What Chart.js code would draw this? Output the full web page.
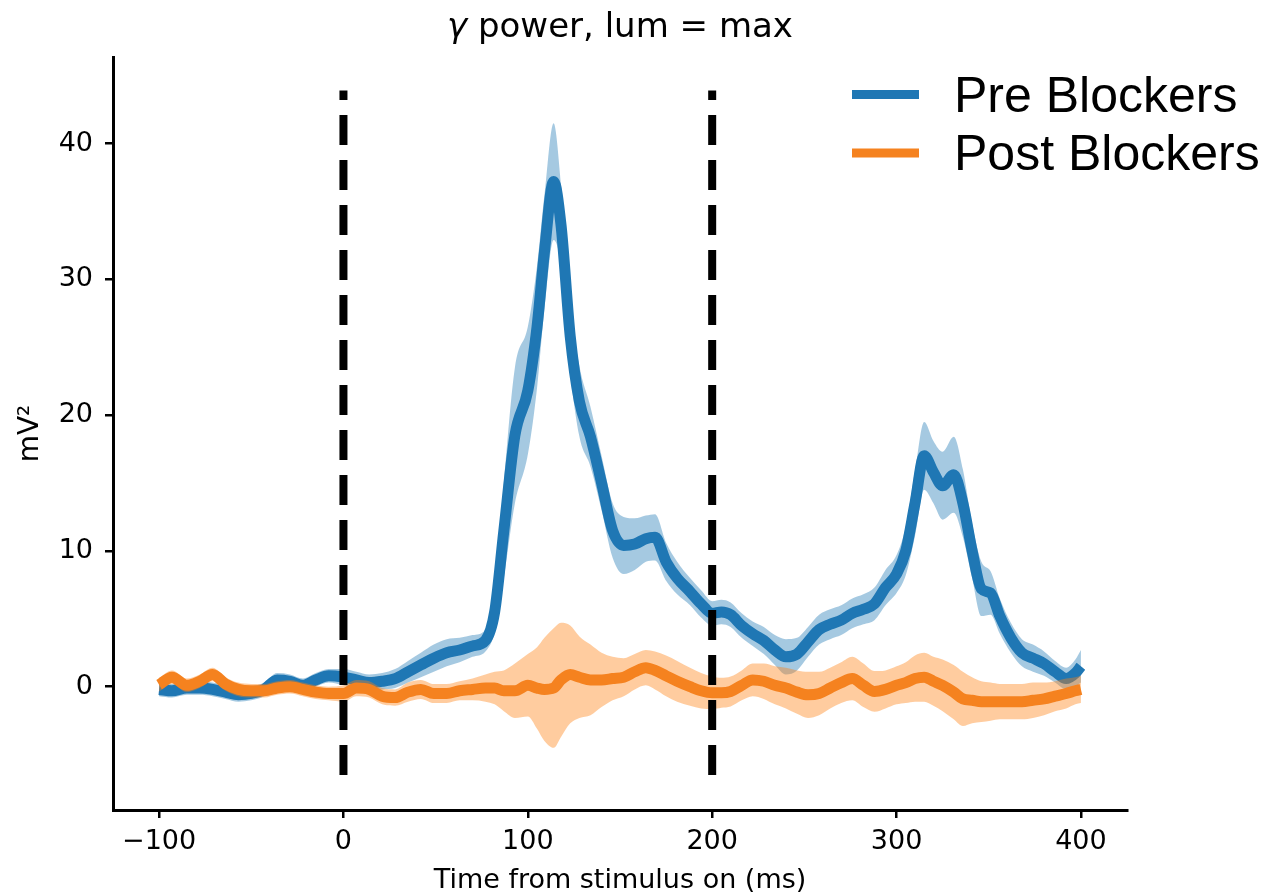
<!DOCTYPE html>
<html>
<head>
<meta charset="utf-8">
<script src="https://cdn.jsdelivr.net/npm/chart.js@4.4.1/dist/chart.umd.min.js"></script>
<style>
  body { margin: 0; background: #fff; }
  #wrap { width: 1267px; height: 894px; }
</style>
</head>
<body>
<div id="wrap"><canvas id="gammaPower" width="1267" height="894"></canvas></div>
<script>
// time points (ms from stimulus on)
var times = [-100, -93, -85, -78, -71, -64, -57, -50, -43, -36,
             -29, -22, -15, -8, 0, 7, 14, 21, 28, 35,
             42, 49, 56, 63, 70, 77, 82, 87, 93, 100,
             105, 109, 114, 118, 123, 128, 134, 140, 146, 152,
             158, 164, 169, 175, 181, 188, 194, 200, 205, 210,
             216, 222, 228, 234, 240, 246, 252, 258, 264, 270,
             276, 282, 288, 294, 300, 305, 310, 315, 320, 325,
             331, 336, 341, 346, 351, 356, 362, 368, 374, 380,
             386, 392, 397, 400];

// Pre Blockers mean and band half-width (mV^2)
var preMean = [-0.2, -0.3, -0.1, -0.1, -0.2, -0.4, -0.6, -0.5, -0.2, 0.5,
               0.4, 0.1, 0.5, 0.8, 0.7, 0.5, 0.3, 0.4, 0.6, 1.1,
               1.6, 2.1, 2.5, 2.7, 3.0, 3.4, 5.5, 11.5, 18.5, 21.8,
               26.5, 32.0, 37.2, 34.0, 25.8, 21.0, 18.4, 15.0, 11.5, 10.4,
               10.5, 10.9, 11.0, 9.2, 8.0, 7.0, 6.1, 5.4, 5.5, 5.3,
               4.5, 3.9, 3.4, 2.7, 2.2, 2.4, 3.3, 4.2, 4.6, 4.9,
               5.4, 5.7, 6.1, 7.3, 8.3, 10.0, 13.5, 17.0, 15.8, 14.8,
               15.6, 13.5, 10.0, 7.2, 6.9, 5.2, 3.6, 2.5, 2.1, 1.7,
               1.1, 0.6, 1.0, 1.5];
var preErr = [0.5, 0.5, 0.5, 0.5, 0.5, 0.5, 0.5, 0.5, 0.5, 0.5,
              0.5, 0.5, 0.5, 0.5, 0.6, 0.6, 0.6, 0.6, 0.7, 0.8,
              0.9, 1.0, 1.0, 0.9, 0.8, 0.8, 1.5, 3.5, 5.0, 4.7,
              4.5, 4.2, 4.3, 3.0, 2.6, 2.6, 2.2, 2.0, 2.0, 2.1,
              1.9, 1.7, 1.7, 1.4, 1.2, 1.0, 1.0, 0.9, 0.9, 0.9,
              0.9, 0.9, 1.0, 1.1, 1.3, 1.2, 1.1, 1.1, 1.1, 1.1,
              1.1, 1.1, 1.2, 1.3, 1.4, 1.8, 2.4, 2.5, 2.3, 2.5,
              2.8, 2.5, 2.0, 2.0, 1.6, 1.3, 1.1, 1.0, 1.0, 0.9,
              0.8, 0.8, 1.0, 1.2];

// Post Blockers mean and band half-width (mV^2)
var postMean = [0.15, 0.7, 0.1, 0.4, 0.9, 0.2, -0.2, -0.3, -0.3, -0.1,
                0.0, -0.2, -0.4, -0.5, -0.5, -0.1, -0.2, -0.7, -0.8, -0.4,
                -0.2, -0.5, -0.5, -0.3, -0.2, -0.1, -0.1, -0.3, -0.3, 0.1,
                -0.1, -0.2, -0.1, 0.5, 0.9, 0.7, 0.5, 0.5, 0.6, 0.7,
                1.1, 1.4, 1.2, 0.8, 0.4, 0.0, -0.3, -0.45, -0.45, -0.35,
                0.1, 0.5, 0.4, 0.1, -0.1, -0.4, -0.6, -0.5, -0.1, 0.3,
                0.6, 0.1, -0.35, -0.2, 0.1, 0.3, 0.6, 0.7, 0.4, 0.1,
                -0.4, -0.9, -1.0, -1.1, -1.1, -1.1, -1.1, -1.1, -1.0, -0.9,
                -0.7, -0.5, -0.3, -0.2];
var postErr = [0.5, 0.5, 0.5, 0.5, 0.5, 0.5, 0.5, 0.5, 0.5, 0.5,
               0.5, 0.5, 0.5, 0.5, 0.6, 0.6, 0.6, 0.6, 0.6, 0.7,
               0.7, 0.7, 0.7, 0.7, 0.8, 1.0, 1.2, 1.5, 2.0, 2.3,
               3.0, 3.8, 4.4, 4.2, 3.6, 3.0, 2.6, 2.0, 1.6, 1.4,
               1.3, 1.3, 1.4, 1.5, 1.5, 1.4, 1.3, 1.2, 1.1, 1.1,
               1.1, 1.2, 1.3, 1.4, 1.5, 1.6, 1.7, 1.6, 1.5, 1.5,
               1.6, 1.6, 1.5, 1.4, 1.4, 1.5, 1.7, 1.8, 1.8, 1.9,
               2.0, 2.0, 1.7, 1.5, 1.4, 1.3, 1.3, 1.3, 1.3, 1.2,
               1.1, 1.1, 1.0, 1.0];

var seriesNames = ["Pre Blockers", "Post Blockers"];
var stimLines = [0, 200];          // dashed markers (ms)
var stimLineRange = [-6.5, 43.9];  // vertical extent of markers
var xTicks = [-100, 0, 100, 200, 300, 400];
var yTicks = [0, 10, 20, 30, 40];

var BLUE = '#1f77b4', ORANGE = '#f5821f';
var BLUE_BAND = 'rgba(31, 119, 180, 0.4)', ORANGE_BAND = 'rgba(255, 127, 14, 0.4)';

function pts(vals) {
    return times.map(function(t, i) { return { x: t, y: vals[i] }; });
}
function band(mean, err, sign) {
    return times.map(function(t, i) { return { x: t, y: mean[i] + sign * err[i] }; });
}

var smooth = { cubicInterpolationMode: 'monotone', pointRadius: 0, pointHoverRadius: 0 };

var datasets = [
    Object.assign({ label: 'preHi', data: band(preMean, preErr, 1), borderWidth: 0, fill: '+1', backgroundColor: BLUE_BAND, order: 6 }, smooth),
    Object.assign({ label: 'preLo', data: band(preMean, preErr, -1), borderWidth: 0, fill: false, order: 7 }, smooth),
    Object.assign({ label: seriesNames[0], data: pts(preMean), borderColor: BLUE, borderWidth: 11, fill: false, borderJoinStyle: 'round', order: 5 }, smooth),
    Object.assign({ label: 'postHi', data: band(postMean, postErr, 1), borderWidth: 0, fill: '+1', backgroundColor: ORANGE_BAND, order: 3 }, smooth),
    Object.assign({ label: 'postLo', data: band(postMean, postErr, -1), borderWidth: 0, fill: false, order: 4 }, smooth),
    Object.assign({ label: seriesNames[1], data: pts(postMean), borderColor: ORANGE, borderWidth: 11, fill: false, borderJoinStyle: 'round', order: 2 }, smooth)
];
stimLines.forEach(function(t, k) {
    datasets.push({
        label: 'stim' + k,
        data: [{ x: t, y: stimLineRange[0] }, { x: t, y: stimLineRange[1] }],
        borderColor: '#000', borderWidth: 8, borderDash: [30, 15], borderCapStyle: 'butt',
        pointRadius: 0, fill: false, order: 0 - k
    });
});

// title and legend drawn by hand to match the figure
var figureText = {
    id: 'figureText',
    afterDraw: function(chart) {
        var ctx = chart.ctx, area = chart.chartArea;
        ctx.save();
        // title with italic gamma
        var g = 'γ', rest = ' power, lum = max';
        ctx.textBaseline = 'alphabetic';
        ctx.fillStyle = '#000';
        ctx.font = 'oblique 34px "DejaVu Sans"';
        var wg = ctx.measureText(g).width;
        ctx.font = '34px "DejaVu Sans"';
        var wr = ctx.measureText(rest).width;
        var cx = (area.left + area.right) / 2;
        var x0 = cx - (wg + wr) / 2;
        ctx.font = 'oblique 34px "DejaVu Sans"';
        ctx.fillText(g, x0, 37);
        ctx.font = '34px "DejaVu Sans"';
        ctx.fillText(rest, x0 + wg, 37);

        // legend
        var colors = [BLUE, ORANGE];
        var rows = [94.5, 153];
        seriesNames.forEach(function(name, i) {
            ctx.strokeStyle = colors[i];
            ctx.lineWidth = 9;
            ctx.lineCap = 'butt';
            ctx.beginPath();
            ctx.moveTo(852, rows[i]);
            ctx.lineTo(919, rows[i]);
            ctx.stroke();
            ctx.font = '50px "Liberation Sans"';
            ctx.fillStyle = '#000';
            ctx.fillText(name, 954, rows[i] + 17);
        });
        ctx.restore();
    }
};

var tickLabel = function(v) { return v < 0 ? '\u2212' + Math.abs(v) : String(v); };

var chartCtx = document.getElementById('gammaPower').getContext('2d');
var gammaChart = new Chart(chartCtx, {
    type: 'line',
    data: { datasets: datasets },
    options: {
        responsive: false,
        animation: false,
        devicePixelRatio: 1,
        layout: { padding: { top: 57, right: 140, left: 0, bottom: 0 } },
        plugins: {
            legend: { display: false },
            tooltip: { enabled: false },
            title: { display: false }
        },
        scales: {
            x: {
                type: 'linear',
                min: -125, max: 425,
                afterBuildTicks: function(scale) { scale.ticks = xTicks.map(function(v) { return { value: v }; }); },
                afterFit: function(scale) { scale.height = 84; },
                grid: { drawOnChartArea: false, drawTicks: true, tickLength: 8, color: '#000', lineWidth: 2.5 },
                border: { display: true, color: '#000', width: 3 },
                ticks: { callback: tickLabel, color: '#000', padding: 8, maxRotation: 0, font: { family: 'DejaVu Sans', size: 27 } },
                title: { display: true, text: 'Time from stimulus on (ms)', color: '#000', padding: { top: 0, bottom: -3 }, font: { family: 'DejaVu Sans', size: 27 } }
            },
            y: {
                type: 'linear',
                min: -9.08, max: 46.37,
                afterBuildTicks: function(scale) { scale.ticks = yTicks.map(function(v) { return { value: v }; }); },
                afterFit: function(scale) { scale.width = 113; },
                grid: { drawOnChartArea: false, drawTicks: true, tickLength: 8, color: '#000', lineWidth: 2.5 },
                border: { display: true, color: '#000', width: 3 },
                ticks: { callback: tickLabel, color: '#000', padding: 12, font: { family: 'DejaVu Sans', size: 27 } },
                title: { display: true, text: 'mV²', color: '#000', padding: { top: 14, bottom: 0 }, font: { family: 'DejaVu Sans', size: 28 } }
            }
        }
    },
    plugins: [figureText]
});
</script>
</body>
</html>
